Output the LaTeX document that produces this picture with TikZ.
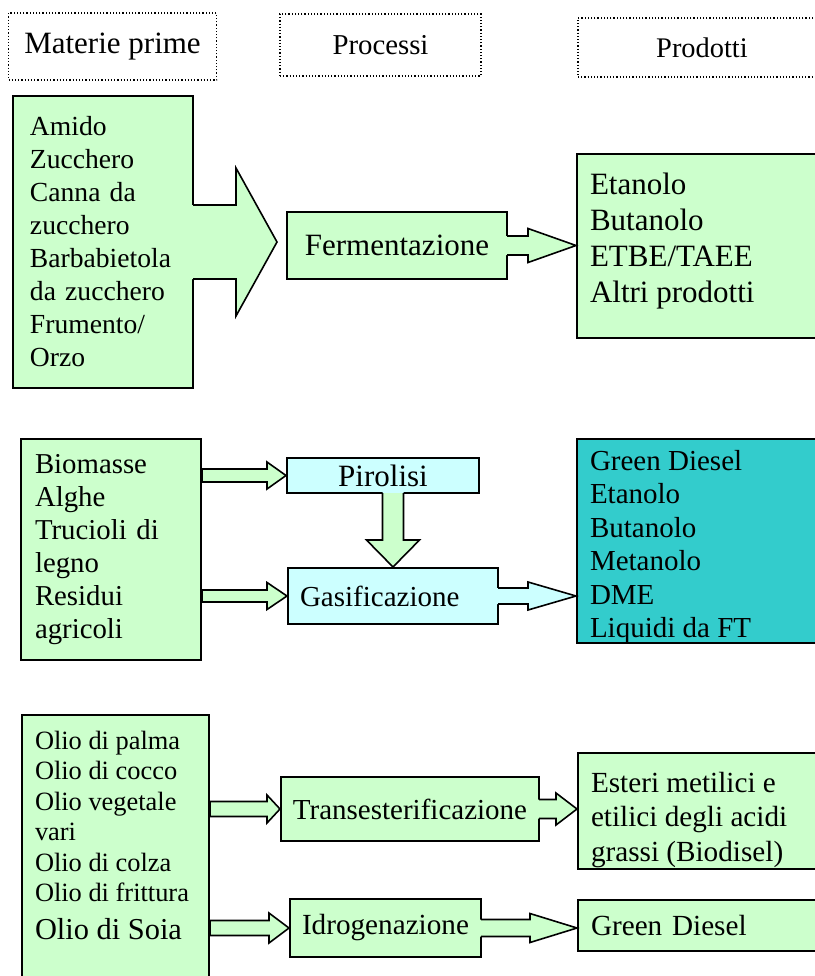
\documentclass[tikz,border=0pt]{standalone}
\usepackage{fontspec}
\setmainfont{Liberation Serif}
\usepackage{tikz}
\definecolor{rawgreen}{HTML}{CCFFCC}
\definecolor{procyan}{HTML}{CCFFFF}
\definecolor{prodteal}{HTML}{33CCCC}
\usetikzlibrary{calc}
\tikzset{
    hdrbox/.style={draw, densely dotted, line width=0.6pt, font=\fontsize{14.4}{17}\selectfont},
    rawbox/.style={draw, line width=1pt, fill=rawgreen, align=left, anchor=north west},
    procbox/.style={draw, line width=1pt, fill=rawgreen},
    prodbox/.style={draw, line width=1pt, fill=rawgreen, align=left, anchor=north west, inner xsep=6.5pt, inner ysep=0pt},
    fatarrow/.style={line width=0.8pt, fill=rawgreen, line join=miter}
}
% closed block arrow: start, tip, shaft half, head half, head length
\newcommand{\blockarrow}[6][]{%
  \filldraw[fatarrow,#1] let \p1=(#2), \p2=(#3) in
    (\x1,\y1+#4) -- (\x2-#6,\y1+#4) -- (\x2-#6,\y1+#5) -- (\x2,\y1)
    -- (\x2-#6,\y1-#5) -- (\x2-#6,\y1-#4) -- (\x1,\y1-#4) -- cycle;}
% block arrow growing out of its box (no line at its base)
\newcommand{\joinarrow}[6][]{%
  \fill[fatarrow,#1] let \p1=(#2), \p2=(#3) in
    (\x1-1pt,\y1+#4) -- (\x2-#6,\y1+#4) -- (\x2-#6,\y1+#5) -- (\x2,\y1)
    -- (\x2-#6,\y1-#5) -- (\x2-#6,\y1-#4) -- (\x1-1pt,\y1-#4) -- cycle;
  \draw[fatarrow,#1] let \p1=(#2), \p2=(#3) in
    (\x1-0.5pt,\y1+#4) -- (\x2-#6,\y1+#4) -- (\x2-#6,\y1+#5) -- (\x2,\y1)
    -- (\x2-#6,\y1-#5) -- (\x2-#6,\y1-#4) -- (\x1-0.5pt,\y1-#4);}

\begin{document}
\begin{tikzpicture}[x=0.5pt, y=-0.5pt]
  \useasboundingbox (0,0) rectangle (815,976);
  \clip (0,0) rectangle (815,976);

  % headers
  \node[hdrbox, minimum width=104pt, minimum height=33.5pt, font=\fontsize{15.5}{18}\selectfont] (hdrraw) at (112.5,46.5) {Materie prime};
  \node[hdrbox, minimum width=100.5pt, minimum height=31pt] (hdrproc) at (380.5,45) {Processi};
  \node[hdrbox, minimum width=124pt, minimum height=29.5pt, font=\fontsize{14.2}{17}\selectfont] (hdrprod) at (702,47.5) {Prodotti};

  % fermentazione
  \node[rawbox, text width=73pt, inner xsep=8.5pt, minimum height=146pt, font=\fontsize{13.8}{16.5}\selectfont] (raw1) at (12,95)
    {Amido\\Zucchero\\Canna da\\zucchero\\Barbabietola\\da zucchero\\Frumento/\\Orzo};
  \node[procbox, minimum width=110pt, minimum height=33.5pt, font=\fontsize{15.5}{18}\selectfont] (ferm) at (397,245.5) {Fermentazione};
  \node[prodbox, font=\fontsize{15.5}{18}\selectfont] (prod1) at (576,153)
    {\parbox[c][92pt][t]{116.5pt}{\vspace*{9.5pt}Etanolo\\Butanolo\\ETBE/TAEE\\Altri prodotti}};
  \coordinate (fermin) at ($(ferm.west)+(-9,0)$);

  % pirolisi / gasificazione
  \node[rawbox, text width=76pt, inner xsep=7pt, minimum height=110.5pt, font=\fontsize{14.4}{16.5}\selectfont] (raw2) at (20,438)
    {Biomasse\\Alghe\\Trucioli di\\legno\\Residui\\agricoli};
  \node[procbox, fill=procyan, minimum width=96pt, minimum height=17.5pt, inner sep=0pt, font=\fontsize{15.5}{18}\selectfont] (piro) at (383,475.5) {Pirolisi};
  \node[procbox, fill=procyan, align=left, text width=93pt, inner xsep=6pt, minimum height=28pt, font=\fontsize{14.5}{17}\selectfont] (gasif) at (393,596) {Gasificazione};
  \node[prodbox, fill=prodteal, font=\fontsize{14.5}{16.75}\selectfont] (prod2) at (576,438)
    {\parbox[c][102pt][t]{116.5pt}{\vspace*{5.5pt}Green Diesel\\Etanolo\\Butanolo\\Metanolo\\DME\\Liquidi da FT}};

  % oli
  \node[rawbox, inner xsep=6.5pt, inner ysep=8pt] (raw3) at (21,714)
    {\parbox[c][140pt][t]{80.5pt}{\fontsize{13.2}{15.25}\selectfont
     Olio di palma\\Olio di cocco\\Olio vegetale\\vari\\Olio di colza\\Olio di frittura\\[3.5pt]
     {\fontsize{15.2}{17.5}\selectfont Olio di Soia}}};
  \node[procbox, minimum width=129pt, minimum height=32pt, font=\fontsize{14.5}{17}\selectfont] (trans) at (410,809) {Transesterificazione};
  \node[prodbox, font=\fontsize{14.6}{17.25}\selectfont] (ester) at (577,752)
    {\parbox[c][58pt][t]{116pt}{\vspace*{9.5pt}Esteri metilici e\\etilici degli acidi\\grassi (Biodisel)}};
  \node[procbox, minimum width=95.5pt, minimum height=29pt, font=\fontsize{14.6}{17}\selectfont] (idro) at (385.5,928) {Idrogenazione};
  \node[prodbox, text width=116pt, inner ysep=2pt, minimum height=25.5pt, font=\fontsize{14.6}{17}\selectfont] (gd) at (577,899) {Green Diesel};

  % block arrows
  \joinarrow{raw1.east}{fermin}{18.5pt}{37pt}{20.5pt}
  \joinarrow{ferm.east}{prod1.west}{4.75pt}{8.5pt}{24pt}
  \blockarrow{raw2.east |- piro.west}{piro.west}{3.25pt}{6.75pt}{9.5pt}
  \blockarrow{raw2.east |- gasif.west}{gasif.west}{3pt}{6.75pt}{10pt}
  \fill[fatarrow, fill=procyan] let \p1=(piro.south), \p2=(gasif.north) in
    (\x2-5.25pt,\y1+1pt) -- (\x2-5.25pt,\y2+13.5pt) -- (\x2-13.25pt,\y2+13.5pt) -- (\x2,\y2)
    -- (\x2+13.25pt,\y2+13.5pt) -- (\x2+5.25pt,\y2+13.5pt) -- (\x2+5.25pt,\y1+1pt) -- cycle;
  \draw[fatarrow] let \p1=(piro.south), \p2=(gasif.north) in
    (\x2-5.25pt,\y1+0.5pt) -- (\x2-5.25pt,\y2+13.5pt) -- (\x2-13.25pt,\y2+13.5pt) -- (\x2,\y2)
    -- (\x2+13.25pt,\y2+13.5pt) -- (\x2+5.25pt,\y2+13.5pt) -- (\x2+5.25pt,\y1+0.5pt);
  \joinarrow[fill=procyan]{gasif.east}{prod2.west}{4pt}{7pt}{24pt}
  \blockarrow{raw3.east |- trans.west}{trans.west}{3.75pt}{7pt}{6.5pt}
  \joinarrow{trans.east}{ester.west}{4.75pt}{8pt}{10.5pt}
  \blockarrow{raw3.east |- idro.west}{idro.west}{3.75pt}{7.5pt}{10pt}
  \joinarrow{idro.east}{gd.west}{4.25pt}{7.25pt}{23.5pt}
\end{tikzpicture}
\end{document}
